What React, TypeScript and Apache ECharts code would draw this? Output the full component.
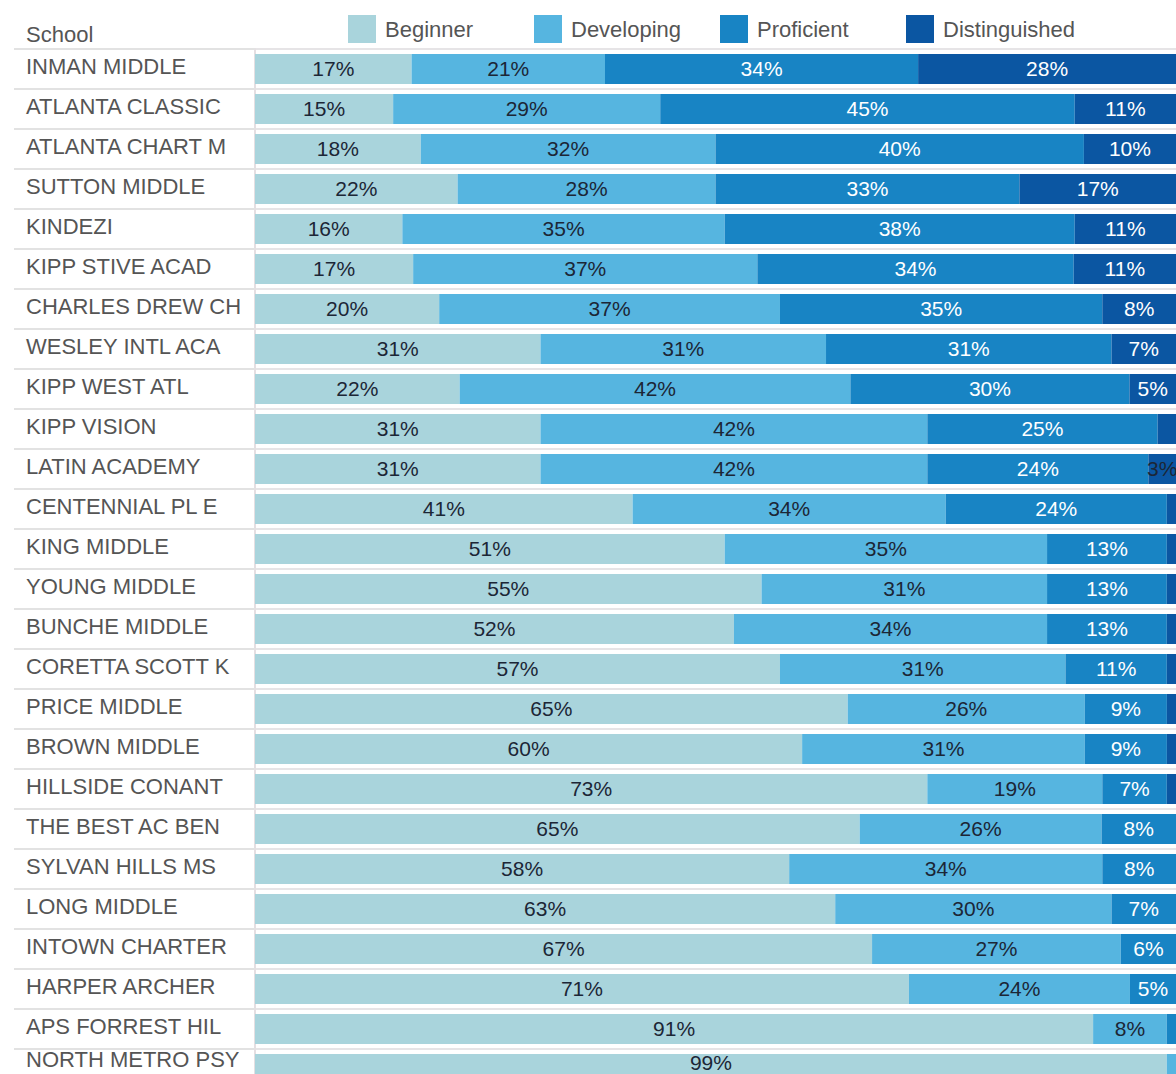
import React, { useEffect, useRef } from "react";
import * as echarts from "echarts";

const schools = [
  "INMAN MIDDLE", "ATLANTA CLASSIC", "ATLANTA CHART M", "SUTTON MIDDLE", "KINDEZI",
  "KIPP STIVE ACAD", "CHARLES DREW CH", "WESLEY INTL ACA", "KIPP WEST ATL", "KIPP VISION",
  "LATIN ACADEMY", "CENTENNIAL PL E", "KING MIDDLE", "YOUNG MIDDLE", "BUNCHE MIDDLE",
  "CORETTA SCOTT K", "PRICE MIDDLE", "BROWN MIDDLE", "HILLSIDE CONANT", "THE BEST AC BEN",
  "SYLVAN HILLS MS", "LONG MIDDLE", "INTOWN CHARTER", "HARPER ARCHER", "APS FORREST HIL",
  "NORTH METRO PSY",
];
const beginner = [17, 15, 18, 22, 16, 17, 20, 31, 22, 31, 31, 41, 51, 55, 52, 57, 65, 60, 73, 65, 58, 63, 67, 71, 91, 99];
const developing = [21, 29, 32, 28, 35, 37, 37, 31, 42, 42, 42, 34, 35, 31, 34, 31, 26, 31, 19, 26, 34, 30, 27, 24, 8, 1];
const proficient = [34, 45, 40, 33, 38, 34, 35, 31, 30, 25, 24, 24, 13, 13, 13, 11, 9, 9, 7, 8, 8, 7, 6, 5, 1, 0];
const distinguished = [28, 11, 10, 17, 11, 11, 8, 7, 5, 2, 3, 1, 1, 1, 1, 1, 1, 1, 1, 0, 0, 0, 0, 0, 0, 0];

const levelNames = ["Beginner", "Developing", "Proficient", "Distinguished"];
const levelColors = ["#a9d4dc", "#56b5e0", "#1884c4", "#0b56a2"];
const levelData = [beginner, developing, proficient, distinguished];
const legendLefts = [348, 534, 720, 906];

export default function App() {
  const ref = useRef<HTMLDivElement>(null);
  useEffect(() => {
    if (!ref.current) return;
    const chart = echarts.init(ref.current, undefined, { renderer: "svg" });
    const totals = schools.map((_, i) => levelData.reduce((s, arr) => s + arr[i], 0));
    const font = "'Liberation Sans', Arial, sans-serif";
    const lastIndex = schools.length - 1;
    const series = levelNames.map((name, si) => ({
      name,
      type: "bar",
      stack: "total",
      barWidth: 30,
      itemStyle: { color: levelColors[si] },
      data: levelData[si].map((v, i) => ({
        value: (v / totals[i]) * 100,
        label: {
          color: si < 2 || v <= 3 ? "#1c2636" : "#ffffff",
          offset: i === lastIndex ? [0, -7] : [0, -1],
        },
      })),
      label: {
        show: true,
        position: "inside",
        fontSize: 21,
        fontFamily: font,
        formatter: (p: any) => {
          const raw = levelData[si][p.dataIndex];
          return raw >= 3 ? raw + "%" : "";
        },
      },
    }));
    const legends = levelNames.map((name, i) => ({
      data: [name],
      left: legendLefts[i],
      top: 15,
      padding: 0,
      icon: "rect",
      itemWidth: 28,
      itemHeight: 28,
      selectedMode: false,
      textStyle: { fontSize: 22, color: "#555555", fontFamily: font, padding: [0, 0, 0, 4] },
    }));
    chart.setOption({
      animation: false,
      backgroundColor: "#ffffff",
      title: {
        text: "School",
        left: 26,
        top: 23,
        padding: 0,
        textStyle: { fontSize: 22, fontWeight: "normal", color: "#555555", fontFamily: font },
      },
      legend: legends,
      grid: { left: 255, right: 0, top: 49, height: 1040, outerBoundsMode: "none", containLabel: false },
      xAxis: {
        type: "value",
        min: 0,
        max: 100,
        show: false,
      },
      yAxis: {
        type: "category",
        inverse: true,
        data: schools.map((s, i) =>
          i === lastIndex
            ? { value: s, textStyle: { align: "left", verticalAlign: "bottom", lineHeight: 20 } }
            : s
        ),
        axisLine: { show: true, lineStyle: { color: "#e4dfe2", width: 2 } },
        axisTick: { show: true, length: 241, lineStyle: { color: "#e2e2e2", width: 2 } },
        splitLine: { show: true, lineStyle: { color: "#e6e4e6", width: 2 } },
        axisLabel: {
          align: "left",
          verticalAlign: "bottom",
          lineHeight: 6,
          margin: 229,
          fontSize: 22,
          color: "#555555",
          fontFamily: font,
        },
      },
      series,
    });
    return () => chart.dispose();
  }, []);
  return (
    <div
      style={{ position: "absolute", left: 0, top: 0, width: 1176, height: 1074, overflow: "hidden" }}
    >
      <div ref={ref} style={{ width: 1176, height: 1110 }} />
    </div>
  );
}
